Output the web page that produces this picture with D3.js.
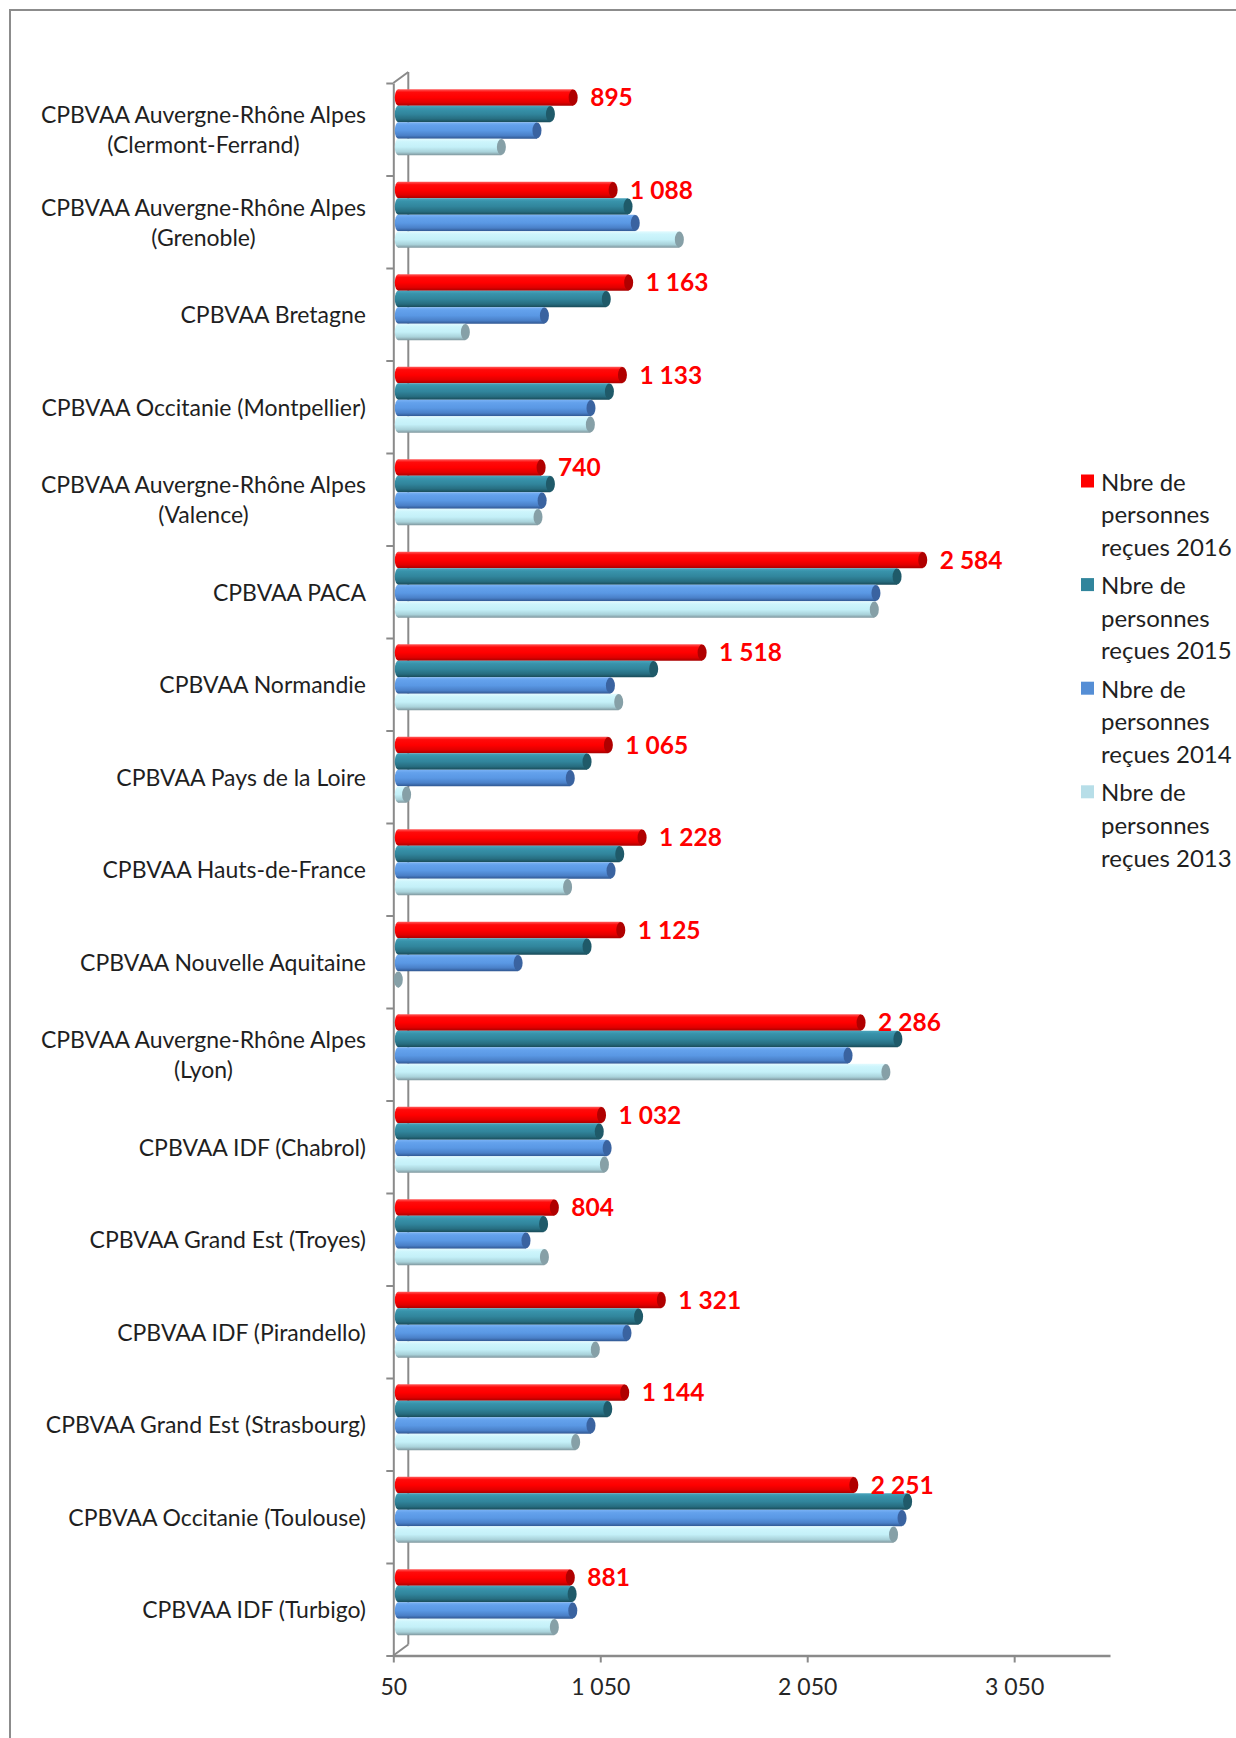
<!DOCTYPE html>
<html>
<head>
<meta charset="utf-8">
<script src="https://cdn.jsdelivr.net/npm/d3@7"></script>
<style>
  body { margin: 0; background: #fff; }
  text { font-family: Lato, "Open Sans", sans-serif; }
</style>
</head>
<body>
<div id="chart"></div>
<script>
// categories, top to bottom; a second entry is a second line of the label
const categories = [
  ["CPBVAA Auvergne-Rhône Alpes", "(Clermont-Ferrand)"],
  ["CPBVAA Auvergne-Rhône Alpes", "(Grenoble)"],
  ["CPBVAA Bretagne"],
  ["CPBVAA Occitanie (Montpellier)"],
  ["CPBVAA Auvergne-Rhône Alpes", "(Valence)"],
  ["CPBVAA PACA"],
  ["CPBVAA Normandie"],
  ["CPBVAA Pays de la Loire"],
  ["CPBVAA Hauts-de-France"],
  ["CPBVAA Nouvelle Aquitaine"],
  ["CPBVAA Auvergne-Rhône Alpes", "(Lyon)"],
  ["CPBVAA IDF (Chabrol)"],
  ["CPBVAA Grand Est (Troyes)"],
  ["CPBVAA IDF (Pirandello)"],
  ["CPBVAA Grand Est (Strasbourg)"],
  ["CPBVAA Occitanie (Toulouse)"],
  ["CPBVAA IDF (Turbigo)"]
];

const seriesKeys = ["2016", "2015", "2014", "2013"];
const legendLabels = [
  ["Nbre de", "personnes", "reçues 2016"],
  ["Nbre de", "personnes", "reçues 2015"],
  ["Nbre de", "personnes", "reçues 2014"],
  ["Nbre de", "personnes", "reçues 2013"]
];

const v2016 = [895, 1088, 1163, 1133, 740, 2584, 1518, 1065, 1228, 1125, 2286, 1032, 804, 1321, 1144, 2251, 881];
const v2015 = [785, 1160, 1055, 1070, 785, 2460, 1284, 962, 1120, 962, 2464, 1021, 752, 1211, 1062, 2511, 890];
const v2014 = [720, 1195, 756, 981, 745, 2358, 1075, 881, 1078, 629, 2223, 1059, 667, 1155, 981, 2484, 893];
const v2013 = [548, 1408, 374, 978, 725, 2350, 1115, 90, 868, 45, 2406, 1046, 756, 1002, 907, 2443, 804];

const xTicks = [50, 1050, 2050, 3050];

const values = { "2016": v2016, "2015": v2015, "2014": v2014, "2013": v2013 };

// cylinder shading: legend colour, then top / mid / bottom / cap
const shades = {
  "2016": { legend: "#ff0000", stops: ["#ff5a5a", "#ff0a0a", "#ff0000", "#e00000", "#a80000"], cap: "#b00000" },
  "2015": { legend: "#31859c", stops: ["#4aa5bd", "#3893ab", "#31859c", "#276d80", "#184a57"], cap: "#1f5a69" },
  "2014": { legend: "#558ed5", stops: ["#7ab2f5", "#63a1ec", "#5a98e4", "#4a80c8", "#2f5690"], cap: "#3a63a0" },
  "2013": { legend: "#b7dee8", stops: ["#e2fbff", "#cdf5fc", "#c4f0f8", "#a9d2da", "#7f969d"], cap: "#86a0a7" }
};

const width = 1236, height = 1738;
const fmt = d3.formatLocale({ decimal: ",", thousands: " ", grouping: [3], currency: ["", " €"] }).format(",d");

const svg = d3.select("#chart").append("svg")
  .attr("width", width)
  .attr("height", height);

// chart frame, only the top and left sides fall inside the picture
svg.append("rect")
  .attr("x", 10).attr("y", 10)
  .attr("width", 1400).attr("height", 1900)
  .attr("fill", "none")
  .attr("stroke", "#8c8c8c")
  .attr("stroke-width", 2);

const defs = svg.append("defs");
seriesKeys.forEach(k => {
  const g = defs.append("linearGradient")
    .attr("id", "body" + k)
    .attr("x1", 0).attr("y1", 0).attr("x2", 0).attr("y2", 1);
  [0, 0.18, 0.5, 0.8, 1].forEach((o, i) => {
    g.append("stop").attr("offset", o).attr("stop-color", shades[k].stops[i]);
  });
});

const x = d3.scaleLinear().domain([50, 3513]).range([393.3, 1110]);
const y = d3.scaleBand().domain(d3.range(categories.length)).range([83, 1655.5]);
const y1 = d3.scaleBand().domain(seriesKeys).range([13.25, 79.25]);
const yEdge = d3.scaleLinear().domain([0, categories.length]).range([83, 1655.5]);

// 3D depth of the plot
const depthX = 15, depthY = -11;
const barDx = 5, barDy = -7;

const axisColor = "#8a8a8a";

// back wall edge
svg.append("line")
  .attr("x1", x(50) + depthX).attr("x2", x(50) + depthX)
  .attr("y1", 83 + depthY).attr("y2", 1655.5 + depthY)
  .attr("stroke", axisColor).attr("stroke-width", 2);
[83, 1655.5].forEach(yy => {
  svg.append("line")
    .attr("x1", x(50)).attr("y1", yy)
    .attr("x2", x(50) + depthX).attr("y2", yy + depthY)
    .attr("stroke", axisColor).attr("stroke-width", 2);
});

// category axis (front edge), ticks at band edges
const yAxis = svg.append("g")
  .attr("transform", `translate(${x(50)},0)`)
  .call(d3.axisLeft(yEdge).tickValues(d3.range(categories.length + 1)).tickFormat("").tickSize(7).tickSizeOuter(0));
yAxis.select(".domain").attr("stroke", axisColor).attr("stroke-width", 2);
yAxis.selectAll(".tick line").attr("stroke", axisColor).attr("stroke-width", 2);

// value axis
const xAxis = svg.append("g")
  .attr("transform", "translate(0,1655.5)")
  .call(d3.axisBottom(x).tickValues(xTicks).tickFormat(fmt).tickSize(7).tickSizeOuter(0).tickPadding(16));
xAxis.select(".domain").attr("stroke", axisColor).attr("stroke-width", 2.5);
xAxis.selectAll(".tick line").attr("stroke", axisColor).attr("stroke-width", 2);
xAxis.selectAll(".tick text")
  .attr("fill", "#262626")
  .style("font-size", "23px")
  .style("font-family", "Lato, sans-serif");

// bars
const h = y1.bandwidth();
const groups = svg.append("g").selectAll("g")
  .data(categories.map((c, i) => i))
  .join("g")
  .attr("transform", i => `translate(0,${y(i) + barDy})`);

const bars = groups.selectAll(".bar")
  .data(i => seriesKeys.map(k => ({ k, v: values[k][i] })))
  .join("g")
  .attr("class", "bar")
  .attr("transform", d => `translate(0,${y1(d.k)})`);

bars.append("ellipse")
  .attr("cx", x(50) + barDx)
  .attr("cy", h / 2)
  .attr("rx", 3.5)
  .attr("ry", h / 2)
  .attr("fill", d => `url(#body${d.k})`);

bars.append("rect")
  .attr("x", x(50) + barDx)
  .attr("y", 0)
  .attr("width", d => Math.max(0, x(d.v) - x(50)))
  .attr("height", h)
  .attr("fill", d => `url(#body${d.k})`);

bars.append("ellipse")
  .attr("cx", d => Math.max(x(50), x(d.v)) + barDx)
  .attr("cy", h / 2)
  .attr("rx", 4.5)
  .attr("ry", h / 2 - 0.3)
  .attr("fill", d => shades[d.k].cap);

// value labels of 2016
groups.append("text")
  .attr("x", i => x(v2016[i]) + 22)
  .attr("y", y1("2016") + h / 2 - 1)
  .attr("dominant-baseline", "central")
  .attr("fill", "#ff0000")
  .style("font-size", "24.5px")
  .style("font-weight", "bold")
  .text(i => fmt(v2016[i]));

// category labels, right aligned block with centred lines
const labelRight = 366;
categories.forEach((lines, i) => {
  const cy = y(i) + y.bandwidth() / 2;
  const g = svg.append("g");
  const texts = lines.map((t, j) => g.append("text")
    .attr("x", 0)
    .attr("y", (j - (lines.length - 1) / 2) * 30)
    .attr("text-anchor", "middle")
    .attr("dominant-baseline", "central")
    .attr("fill", "#1f1f1f")
    .style("font-size", "23px")
    .text(t));
  const w = d3.max(texts, t => t.node().getComputedTextLength());
  g.attr("transform", `translate(${labelRight - w / 2},${cy})`);
});

// legend
const legend = svg.append("g").selectAll("g")
  .data(seriesKeys)
  .join("g")
  .attr("transform", (k, i) => `translate(1081,${481 + i * 103.6})`);

legend.append("rect")
  .attr("x", 0).attr("y", -6.5)
  .attr("width", 13).attr("height", 13)
  .attr("fill", k => shades[k].legend);

legend.each(function (k, i) {
  d3.select(this).selectAll("text")
    .data(legendLabels[i])
    .join("text")
    .attr("x", 20)
    .attr("y", (t, j) => j * 32.7)
    .attr("dominant-baseline", "central")
    .attr("fill", "#1f1f1f")
    .style("font-size", "24px")
    .text(t => t);
});
</script>
</body>
</html>
